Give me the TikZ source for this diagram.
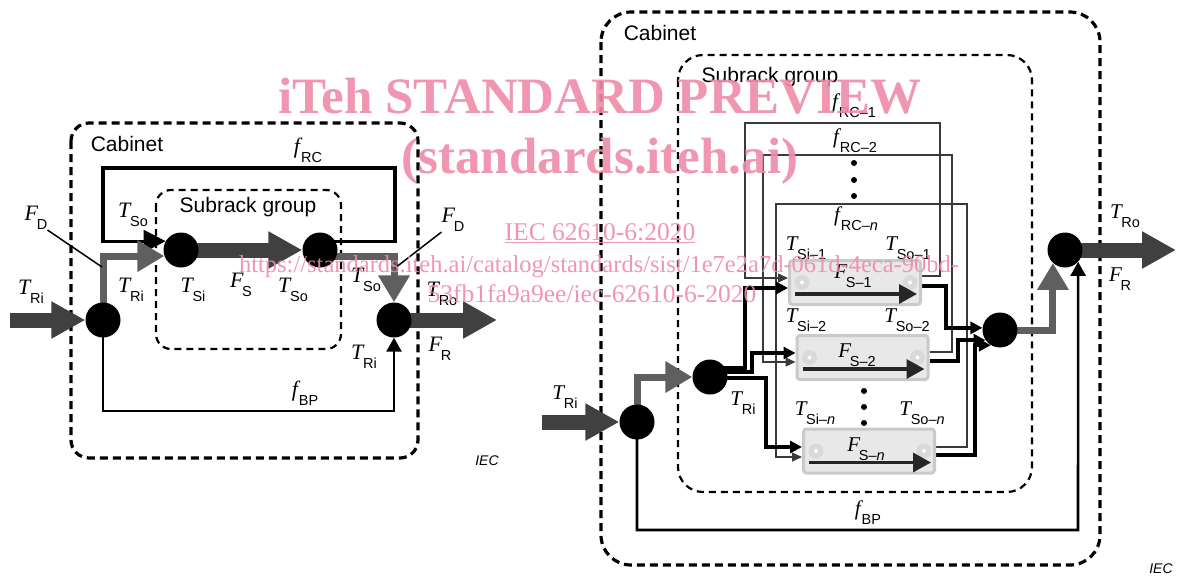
\documentclass[tikz,border=0pt]{standalone}
\usepackage{fontspec}
\setmainfont{Liberation Serif}
\setsansfont{Liberation Sans}
\usepackage{tikz}
\usetikzlibrary{arrows.meta,backgrounds,calc}
\definecolor{FlowDark}{HTML}{404040}
\definecolor{FlowMid}{HTML}{5F5F5F}
\definecolor{LoopLine}{HTML}{3A3A3A}
\definecolor{UnitFill}{HTML}{E8E8E8}
\definecolor{UnitEdge}{HTML}{CACACA}
\definecolor{UnitMark}{HTML}{D9D9D9}
\definecolor{MarkPink}{HTML}{EE8BA9}

% italic symbol with upright sans subscript
\newcommand{\qsym}[2]{\textit{#1}\kern-1.5pt\raisebox{-0.42em}{\sffamily\fontsize{14.5}{14.5}\selectfont #2}}

\begin{document}
\begin{tikzpicture}[x=1pt, y=-1pt, inner sep=0pt, font=\fontsize{22}{22}\selectfont,
  junction/.style={circle, fill=black, minimum size=35pt},
  cabinet/.style={line width=3.2pt, dash pattern=on 8pt off 5pt, rounded corners=18pt},
  subgroup/.style={line width=2.2pt, dash pattern=on 7pt off 5pt, rounded corners=15pt},
  bigflow/.style={FlowDark, line width=15pt, -{Triangle[length=34pt,width=35pt]}},
  midflow/.style={FlowMid, line width=7pt, -{Triangle[length=27pt,width=30pt]}},
  reloop/.style={line width=3.2pt, -{Triangle[length=22pt,width=22pt]}},
  bypass/.style={line width=2.6pt, -{Triangle[length=14pt,width=15pt]}},
  feed/.style={line width=4pt, -{Triangle[length=12pt,width=12pt]}},
  recirc/.style={LoopLine, line width=1.3pt, -{Triangle[length=10pt,width=9pt]}},
  leader/.style={line width=1.5pt},
  unitbox/.style={rectangle, rounded corners=3pt, fill=UnitFill, draw=UnitEdge, line width=3pt,
    minimum width=131pt, minimum height=44pt},
  unitflow/.style={black!85, line width=3.5pt, -{Triangle[length=18pt,width=19pt]}},
  sans/.style={font=\sffamily\fontsize{21}{21}\selectfont},
  iec/.style={font=\sffamily\itshape\fontsize{14}{14}\selectfont},
  wmark/.style={text=MarkPink, text opacity=0.9, font=\fontsize{25.5}{25.5}\selectfont, anchor=base},
]
  \useasboundingbox (0,0) rectangle (1178,579);

  % junctions, left cabinet
  \node[junction] (inL) at (103,320) {};
  \node[junction] (siL) at (181,250) {};
  \node[junction] (soL) at (320,250) {};
  \node[junction] (outL) at (394,320) {};
  \coordinate (feedL) at (10,320);
  \coordinate (sinkL) at (497,320);
  \coordinate (fdTipL) at (102,267);
  \coordinate (fdTipR) at (395,268);

  % junctions, right cabinet
  \node[junction] (inR) at (637,422) {};
  \node[junction] (distR) at (710,377) {};
  \node[junction] (mixR) at (1000,330) {};
  \node[junction] (outR) at (1065,250) {};
  \coordinate (feedR) at (542,422);
  \coordinate (sinkR) at (1176,250);

  % subrack units
  \foreach \uname/\cx/\cy in {box1/855/282.5, box2/862.5/357.5, boxN/869/451} {
    \node[unitbox] (\uname) at (\cx,\cy) {};
    \fill[UnitMark] ($(\uname.west)+(14,0)$) circle (7.5) ($(\uname.east)+(-12,0)$) circle (7.5);
    \fill[white] ($(\uname.west)+(14,0)$) circle (2) ($(\uname.east)+(-12,0)$) circle (2);
    \draw[unitflow] ($(\uname.west)+(7,11.5)$) -- ($(\uname.east)+(-5,11.5)$);
  }

  \begin{scope}[on background layer]
    \draw[cabinet] (71,123) rectangle (418,458);
    \draw[subgroup] (156,190) rectangle (341,349);
    \draw[cabinet, rounded corners=30pt] (601,12) rectangle (1100,565);
    \draw[subgroup, rounded corners=25pt] (678,55) rectangle (1032,492);

    % left cabinet
    \draw[reloop] (soL |- soL.30) -| (395,168) -- (103,168) |- (siL.150);
    \draw[midflow] (inL.center) |- (siL.200);
    \draw[midflow] (soL |- soL.-20) -| (outL.north);
    \draw[bigflow] (feedL) -- (inL.west);
    \draw[bigflow] (siL.center) -- (soL.west);
    \draw[bigflow] (outL.center) -- (sinkL);
    \draw[bypass] (inL.center) |- (394,411) -- (outL.south);

    % right cabinet
    \draw[recirc] ($(box1.east)+(0,-6.5)$) -| (940,123) -| (745,278) -- ($(box1.west)+(0,-4.5)$);
    \draw[recirc] ($(box2.east)+(0,-5.5)$) -| (952,155) -| (763,362) -- ($(box2.west)+(0,4.5)$);
    \draw[recirc] ($(boxN.east)+(0,-4)$) -| (967,204) -| (776,457) -- ($(boxN.west)+(0,6)$);
    \draw[feed] ($(distR)+(0,-9)$) -- (745,368) |- ($(box1.west)+(0,5.5)$);
    \draw[feed] ($(distR)+(0,-5)$) -- (752,372) |- ($(box2.west)+(0,-4.5)$);
    \draw[feed] ($(distR)+(0,1)$) -- (766,378) |- ($(boxN.west)+(0,-4)$);
    \draw[feed] ($(box1.east)+(0,3.5)$) -- (946,286) |- (mixR.173);
    \draw[feed] ($(box2.east)+(0,3.5)$) -- (958,361) |- (mixR.-145);
    \draw[feed] ($(boxN.east)+(0,4)$) -- (975,455) |- (mixR.-121);
    \draw[midflow] (inR.center) |- (distR.west);
    \draw[midflow] (mixR.center) -| (outR.-133);
    \draw[bigflow] (feedR) -- (inR.west);
    \draw[bigflow] (outR.center) -- (sinkR);
    \draw[bypass] (inR.center) |- (1078,530) -- (outR.-42);
  \end{scope}

  % labels, left cabinet
  \node[sans] (cabL) at (127,144) {Cabinet};
  \node[sans] (subL) at (248,207) {Subrack group};
  \node (frcL) at (308,150) {\qsym{f}{RC}};
  \node (fdL1) at (36,218) {\qsym{F}{D}};
  \node (fdL2) at (453,220) {\qsym{F}{D}};
  \node (triL1) at (31,292) {\qsym{T}{Ri}};
  \node (triL2) at (131,290) {\qsym{T}{Ri}};
  \node (tsoL1) at (133,215) {\qsym{T}{So}};
  \node (tsiL) at (193,290) {\qsym{T}{Si}};
  \node (fsL) at (241,285) {\qsym{F}{S}};
  \node (tsoL2) at (293,290) {\qsym{T}{So}};
  \node (tsoL3) at (366,280) {\qsym{T}{So}};
  \node (troL) at (442,294) {\qsym{T}{Ro}};
  \node (frL) at (440,349) {\qsym{F}{R}};
  \node (triL3) at (364,357) {\qsym{T}{Ri}};
  \node (fbpL) at (305,393) {\qsym{f}{BP}};
  \node[iec] (iecL) at (487,461) {IEC};
  \draw[leader] (fdL1.south east) -- (fdTipL);
  \draw[leader] (fdL2.south west) -- (fdTipR);

  % labels, right cabinet
  \begin{scope}[font=\fontsize{21}{21}\selectfont]
    \node[sans] (cabR) at (660,33) {Cabinet};
    \node[sans] (subR) at (770,77) {Subrack group};
    \node (frc1) at (854,106) {\qsym{f}{RC–1}};
    \node (frc2) at (855,141) {\qsym{f}{RC–2}};
    \node (frcN) at (856,219) {\qsym{f}{RC–\textit{n}}};
    \foreach \y in {163,180,196} \fill (854,\y) circle (3);
    \foreach \y in {391,407,423} \fill (864,\y) circle (3);
    \node (tsi1) at (806,248) {\qsym{T}{Si–1}};
    \node (tso1) at (908,248) {\qsym{T}{So–1}};
    \node (fs1) at (853,276) {\qsym{F}{S–1}};
    \node (tsi2) at (806,320) {\qsym{T}{Si–2}};
    \node (tso2) at (907,320) {\qsym{T}{So–2}};
    \node (fs2) at (857,355) {\qsym{F}{S–2}};
    \node (tsiN) at (815,413) {\qsym{T}{Si–\textit{n}}};
    \node (tsoN) at (922,413) {\qsym{T}{So–\textit{n}}};
    \node (fsN) at (866,449) {\qsym{F}{S–\textit{n}}};
    \node (triR1) at (565,397) {\qsym{T}{Ri}};
    \node (triR2) at (743,403) {\qsym{T}{Ri}};
    \node (fbpR) at (868,513) {\qsym{f}{BP}};
    \node (troR) at (1125,216) {\qsym{T}{Ro}};
    \node (frR) at (1120,279) {\qsym{F}{R}};
  \end{scope}
  \node[iec] (iecR) at (1161,569) {IEC};

  % watermark
  \node[wmark, font=\bfseries\fontsize{51}{51}\selectfont] (wmTitle) at (600,113) {iTeh STANDARD PREVIEW};
  \node[wmark, font=\bfseries\fontsize{51}{51}\selectfont] (wmSite) at (600,173) {(standards.iteh.ai)};
  \node[wmark] (wmStd) at (600,240) {\underline{IEC 62610-6:2020}};
  \node[wmark, font=\fontsize{24.5}{24.5}\selectfont] (wmUrl) at (599,272) {https://standards.iteh.ai/catalog/standards/sist/1e7e2a7d-061d-4eca-90bd-};
  \node[wmark] (wmDoc) at (592,302) {53fb1fa9a9ee/iec-62610-6-2020};
\end{tikzpicture}
\end{document}
